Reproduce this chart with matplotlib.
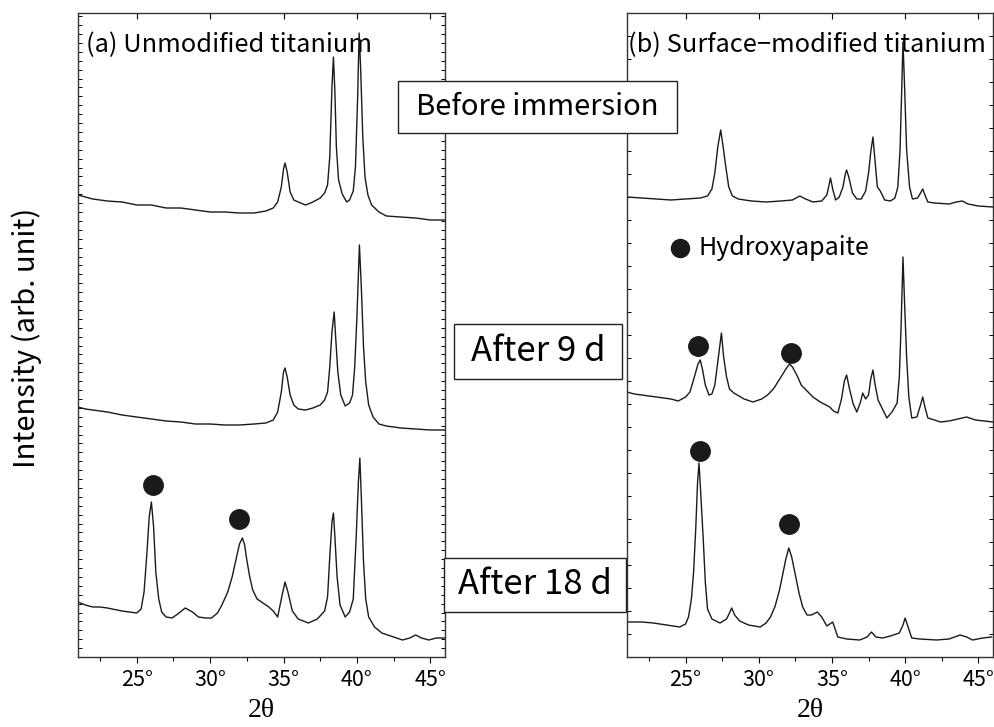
import numpy as np
import matplotlib
matplotlib.use("Agg")
import matplotlib.pyplot as plt
from matplotlib.patches import Rectangle
from matplotlib.ticker import MultipleLocator

plt.rcParams['font.family'] = ['Noto Sans CJK JP', 'DejaVu Sans']

# ---- data (2theta in degrees, intensity in arb. units) ----
# (a) unmodified titanium, before immersion
a0_x = [21.0, 21.5, 22, 23, 24, 25, 26, 27, 28, 29, 30, 31, 32, 33, 33.8, 34.3, 34.6, 34.85, 35.0, 35.1,
        35.25, 35.45, 35.7, 36.0, 36.5, 37.0, 37.5, 37.8, 38.0, 38.15, 38.3, 38.4, 38.5, 38.6, 38.75, 39.0,
        39.3, 39.5, 39.75, 39.9, 40.05, 40.15, 40.25, 40.4, 40.55, 40.75, 41.0, 41.5, 42, 43, 44, 45, 46]
a0_y = [462, 460, 458, 456, 455, 452, 452, 449, 449, 447, 445, 445, 444, 444, 446, 449, 455, 470, 488, 494,
        485, 465, 457, 455, 452, 455, 459, 464, 472, 500, 570, 600, 565, 510, 477, 463,
        455, 457, 466, 490, 560, 624, 590, 520, 480, 462, 452, 445, 441, 440, 439, 437, 437]

# (a) after 9 d
a9_x = [21.0, 21.5, 22, 23, 24, 25, 26, 27, 28, 29, 30, 31, 32, 33, 33.8, 34.3, 34.6, 34.85, 35.0, 35.1,
        35.25, 35.45, 35.7, 36.0, 36.5, 37.0, 37.5, 37.8, 38.0, 38.15, 38.3, 38.45, 38.55, 38.7, 38.9, 39.2,
        39.5, 39.7, 39.85, 40.0, 40.17, 40.3, 40.45, 40.6, 40.8, 41.1, 41.5, 42, 43, 44, 45, 46]
a9_y = [250, 248, 247, 245, 242, 240, 238, 236, 235, 233, 233, 232, 232, 233, 234, 237, 245, 265, 285, 289,
        280, 262, 252, 248, 247, 249, 252, 257, 265, 290, 325, 345, 320, 285, 262, 251,
        254, 262, 290, 340, 412, 370, 310, 275, 252, 240, 233, 231, 229, 228, 227, 227]

# (a) after 18 d
a18_x = [21.0, 21.5, 22, 22.5, 23, 24, 25, 25.3, 25.5, 25.7, 25.85, 26.0, 26.15, 26.3, 26.5, 26.7, 27.0,
         27.4, 27.8, 28.3, 28.8, 29.2, 29.7, 30.1, 30.5, 30.8, 31.2, 31.5, 31.8, 32.0, 32.2, 32.35, 32.5,
         32.7, 32.9, 33.2, 33.6, 34.0, 34.3, 34.6, 34.85, 35.1, 35.3, 35.6, 36.0, 36.7, 37.3, 37.8, 38.0,
         38.15, 38.3, 38.4, 38.5, 38.65, 38.85, 39.2, 39.5, 39.75, 39.95, 40.1, 40.2, 40.3, 40.45, 40.6,
         40.8, 41.2, 41.7, 42.5, 43.1, 43.6, 44.0, 44.4, 44.9, 45.4, 46]
a18_y = [55, 52, 50, 50, 49, 46, 44, 48, 65, 105, 140, 155, 130, 85, 58, 45, 40,
         39, 43, 49, 45, 40, 39, 39, 44, 52, 65, 80, 100, 113, 119, 112, 97,
         80, 67, 58, 54, 50, 46, 40, 58, 75, 65, 46, 38, 34, 38, 46, 60,
         100, 135, 144, 120, 80, 52, 40, 45, 58, 120, 175, 199, 160, 95, 58,
         40, 30, 24, 20, 17, 19, 22, 19, 17, 19, 19]

# (b) surface-modified titanium, before immersion
b0_x = [21.0, 22, 23, 24, 25, 26, 26.5, 26.8, 27.0, 27.2, 27.4, 27.55, 27.75, 27.95, 28.2, 28.6, 29.5,
        30.5, 31.5, 32.3, 32.8, 33.2, 33.7, 34.3, 34.65, 34.8, 34.9, 35.05, 35.25, 35.5, 35.75, 35.9,
        36.0, 36.15, 36.4, 36.7, 37.0, 37.3, 37.5, 37.65, 37.8, 37.95, 38.1, 38.3, 38.6, 39.0, 39.3,
        39.5, 39.65, 39.77, 39.85, 39.95, 40.1, 40.3, 40.5, 40.85, 41.05, 41.2, 41.35, 41.55, 42.0,
        43.0, 43.5, 43.9, 44.3, 45, 46]
b0_y = [460, 459, 458, 457, 458, 459, 461, 468, 484, 510, 527, 512, 490, 470, 461, 458, 456,
        455, 456, 457, 461, 458, 455, 456, 462, 472, 479, 468, 457, 460, 470, 482,
        487, 480, 464, 458, 458, 466, 484, 505, 520, 495, 470, 466, 457, 456, 459,
        470, 507, 570, 615, 575, 507, 470, 458, 459, 464, 468, 462, 455, 454,
        453, 455, 456, 453, 451, 450]

# (b) after 9 d
b9_x = [21.0, 21.5, 22, 23, 24, 24.5, 25.0, 25.3, 25.6, 25.85, 26.0, 26.15, 26.35, 26.6, 26.8, 27.0, 27.2,
        27.45, 27.6, 27.8, 28.0, 28.3, 29.0, 29.6, 30.2, 30.6, 31.0, 31.3, 31.6, 31.9, 32.1, 32.3, 32.6,
        32.9, 33.3, 33.7, 34.2, 34.85, 35.1, 35.4, 35.65, 35.85, 36.0, 36.2, 36.45, 36.7, 36.95, 37.1,
        37.3, 37.5, 37.65, 37.8, 37.95, 38.15, 38.45, 38.75, 39.1, 39.45, 39.6, 39.72, 39.85, 39.97,
        40.1, 40.25, 40.45, 40.8, 41.05, 41.2, 41.35, 41.55, 42.0, 42.4, 43.0, 43.6, 44.2, 44.8, 45.4, 46]
b9_y = [265, 263, 262, 260, 258, 256, 260, 265, 280, 293, 297, 288, 272, 262, 263, 272, 295,
        324, 300, 280, 268, 264, 258, 255, 258, 262, 268, 275, 282, 289, 293, 290, 282,
        272, 266, 260, 255, 250, 246, 244, 258, 276, 282, 268, 253, 245, 255, 264,
        258, 262, 278, 287, 272, 257, 248, 239, 245, 254, 280, 330, 400, 350,
        300, 260, 239, 240, 252, 260, 250, 239, 237, 235, 236, 238, 240, 237, 236, 235]

# (b) after 18 d
b18_x = [21.0, 22, 22.8, 23.7, 24.6, 25.0, 25.2, 25.4, 25.55, 25.7, 25.82, 25.92, 26.05, 26.2, 26.35, 26.5,
         26.8, 27.35, 27.8, 28.0, 28.15, 28.35, 28.7, 29.3, 30.1, 30.5, 30.8, 31.1, 31.4, 31.6, 31.85, 32.05,
         32.25, 32.5, 32.75, 33.0, 33.3, 33.6, 34.0, 34.3, 34.65, 35.05, 35.4, 36.0, 36.9, 37.4, 37.7, 38.0,
         38.45, 39.0, 39.6, 39.85, 40.0, 40.2, 40.45, 41.0, 42.15, 43.0, 43.75, 44.2, 44.6, 45.3, 45.9]
b18_y = [35, 35, 34, 32, 30, 33, 40, 58, 85, 130, 175, 194, 160, 120, 75, 48,
         38, 34, 38, 44, 49, 42, 36, 32, 30, 34, 40, 50, 66, 80, 98, 109,
         100, 82, 64, 50, 42, 42, 45, 40, 31, 35, 20, 18, 17, 20, 25, 20,
         19, 21, 24, 32, 39, 30, 19, 18, 17, 18, 22, 20, 17, 19, 20]

# hydroxyapatite markers (2theta, intensity)
hap_a18 = ([26.1, 32.0], [172, 138])
hap_b9 = ([25.85, 32.2], [311, 304])
hap_b18 = ([26.0, 32.05], [206, 133])

xticks = [25, 30, 35, 40, 45]
xticklabels = ['25°', '30°', '35°', '40°', '45°']

W, H = 994, 727
fig = plt.figure(figsize=(W / 100, H / 100), dpi=100)


def fx(px):
    return px / W


def fy(py):
    return 1 - py / H


def setup(ax, ystep):
    ax.set_xlim(21, 46)
    ax.set_ylim(0, 644)
    ax.set_xticks(xticks)
    ax.set_xticklabels(xticklabels, fontsize=15.5)
    ax.xaxis.set_minor_locator(MultipleLocator(2.5))
    ax.tick_params(axis='x', which='major', direction='out', length=4, width=0.8, pad=5)
    ax.tick_params(axis='x', which='minor', direction='out', length=3, width=0.8)
    ax.yaxis.set_major_locator(MultipleLocator(ystep))
    ax.tick_params(axis='y', which='major', direction='in', length=3, width=0.7,
                   left=True, right=True, labelleft=False)
    top = ax.secondary_xaxis('top')
    top.set_xticks(xticks)
    top.tick_params(direction='in', length=4, width=0.8, labeltop=False)
    top.spines['top'].set_visible(False)
    for s in ax.spines.values():
        s.set_color('#333333')
        s.set_linewidth(1.0)
    ax.set_xlabel('2θ', fontsize=20, family=['Liberation Serif', 'DejaVu Serif'], labelpad=5)


axL = fig.add_axes([fx(78), fy(657), fx(445 - 78), (657 - 13) / H])
axR = fig.add_axes([fx(627), fy(657), fx(993 - 627), (657 - 13) / H])
setup(axL, 8.9)
setup(axR, 23)

lc = '#1a1a1a'
for x, y in [(a0_x, a0_y), (a9_x, a9_y), (a18_x, a18_y)]:
    axL.plot(x, y, color=lc, lw=1.0)
for x, y in [(b0_x, b0_y), (b9_x, b9_y), (b18_x, b18_y)]:
    axR.plot(x, y, color=lc, lw=1.0)

ms = 14
axL.plot(*hap_a18, 'o', color='#1a1a1a', ms=ms)
axR.plot(*hap_b9, 'o', color='#1a1a1a', ms=ms)
axR.plot(*hap_b18, 'o', color='#1a1a1a', ms=ms)

# legend marker
axR.plot([24.6], [409], 'o', color='#1a1a1a', ms=13)
axR.text(25.85, 409, 'Hydroxyapaite', fontsize=18, va='center', ha='left')

axL.text(21.55, 612, '(a) Unmodified titanium', fontsize=18.3, va='center', ha='left', zorder=1)
axR.text(21.05, 612, '(b) Surface\u2212modified titanium', fontsize=18.3, va='center', ha='left', zorder=1)

# condition boxes over the gap between the panels
boxes = [
    ('Before immersion', 398, 81, 677, 133, 537, 107, 21),
    ('After 9 d', 454, 324, 622, 379, 538, 351, 25),
    ('After 18 d', 444, 558, 626, 612, 535, 585, 25),
]
for label, x0, y0, x1, y1, tx, ty, fs in boxes:
    fig.patches.append(Rectangle((fx(x0), fy(y1)), fx(x1 - x0), (y1 - y0) / H,
                                 transform=fig.transFigure, facecolor='white',
                                 edgecolor='#222222', lw=1.0, zorder=10))
    fig.text(fx(tx), fy(ty), label, fontsize=fs, ha='center', va='center', zorder=11)

fig.text(fx(27), fy(338), 'Intensity (arb. unit)', fontsize=21, rotation=90,
         ha='center', va='center')

fig.savefig('out.png', dpi=100)
